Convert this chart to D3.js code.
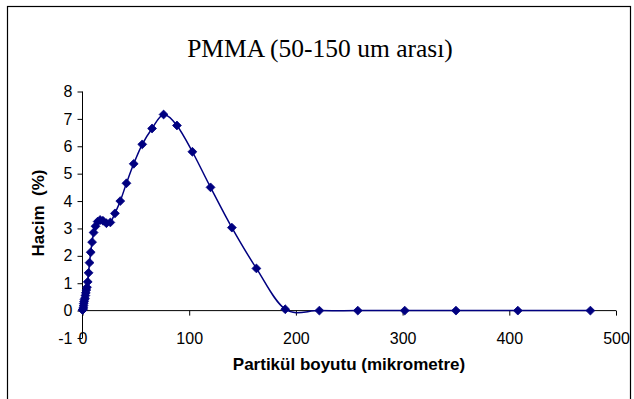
<!DOCTYPE html>
<html>
<head>
<meta charset="utf-8">
<script src="https://cdn.jsdelivr.net/npm/d3@7/dist/d3.min.js"></script>
<style>
  html, body { margin: 0; padding: 0; background: #fff; }
  svg { display: block; }
</style>
</head>
<body>
<svg id="chart" width="634" height="399"></svg>
<script>
// Particle size distribution of PMMA (50-150 µm fraction)
const sizes = [0, 0.5, 0.8, 1.0, 1.2, 1.5, 1.8, 2.3, 2.7, 3.1, 3.6, 4.2, 4.9, 5.7, 6.6, 7.7, 9.0,
  10.4, 12.2, 14.2, 16.5, 19.2, 22.4, 26.1, 30.4, 35.4, 41.2, 48, 56, 65.2, 76, 88.5, 103,
  120, 140, 163, 190, 222, 258, 302, 350, 408, 476];
const volumes = [0.02, 0.05, 0.1, 0.18, 0.26, 0.33, 0.4, 0.45, 0.55, 0.65, 0.75, 0.85, 1.05, 1.38, 1.75, 2.13, 2.5,
  2.85, 3.08, 3.25, 3.31, 3.28, 3.19, 3.22, 3.55, 4.0, 4.65, 5.36, 6.07, 6.65, 7.16, 6.76, 5.8,
  4.5, 3.03, 1.54, 0.05, 0, 0, 0, 0, 0, 0];
const xTicks = [0, 100, 200, 300, 400, 500];
const yTicks = [-1, 0, 1, 2, 3, 4, 5, 6, 7, 8];

const title = "PMMA (50-150 um arası)";
const xTitle = "Partikül boyutu (mikrometre)";
const yTitle = "Hacim  (%)";

const points = sizes.map((s, i) => ({ x: s, y: volumes[i] }));

const svg = d3.select("#chart");
const color = "#000080";
const sans = "Liberation Sans, Arial, sans-serif";
const plain = d => String(d);

// chart area frame
svg.append("rect")
  .attr("x", 7.5).attr("y", 6.5)
  .attr("width", 623).attr("height", 420)
  .attr("fill", "#fff").attr("stroke", "#000").attr("stroke-width", 1.2);

const x = d3.scaleLinear().domain([0, 500]).range([82.5, 616]);
const y = d3.scaleLinear().domain([-1, 8]).range([338, 91.5]);

// y axis
const yAxis = svg.append("g")
  .attr("transform", `translate(${x(0)},0)`)
  .call(d3.axisLeft(y).tickValues(yTicks).tickSize(5).tickPadding(5).tickFormat(plain));
yAxis.select(".domain").attr("stroke", "#000").attr("d", `M0,${y(-1)}V${y(8)}`);
yAxis.selectAll(".tick line").attr("stroke", "#000");
yAxis.selectAll("text")
  .attr("font-family", sans)
  .attr("font-size", 16).attr("fill", "#000");

// x axis crosses at y = 0, labels sit at the bottom of the value range
const xAxis = svg.append("g")
  .attr("transform", `translate(0,${y(0)})`)
  .call(d3.axisBottom(x).tickValues(xTicks).tickSize(5).tickFormat(plain));
xAxis.select(".domain").attr("stroke", "#000").attr("d", `M${x(0)},0H${x(500)}`);
xAxis.selectAll(".tick line").attr("stroke", "#000");
xAxis.selectAll("text")
  .attr("y", y(-1) - y(0))
  .attr("dy", "0.35em")
  .attr("font-family", sans)
  .attr("font-size", 16).attr("fill", "#000");

// smoothed series line
const line = d3.line()
  .x(d => x(d.x)).y(d => y(d.y))
  .curve(d3.curveCatmullRom.alpha(0));
svg.append("path")
  .datum(points)
  .attr("d", line)
  .attr("fill", "none")
  .attr("stroke", color)
  .attr("stroke-width", 1.5);

// diamond markers
const diamond = d3.symbol().type(d3.symbolDiamond2).size(50);
svg.append("g").selectAll("path")
  .data(points)
  .join("path")
  .attr("transform", d => `translate(${x(d.x)},${y(d.y)})`)
  .attr("d", diamond)
  .attr("fill", color)
  .attr("stroke", color)
  .attr("stroke-width", 0.8);

// titles
svg.append("text")
  .attr("x", 320).attr("y", 57)
  .attr("text-anchor", "middle")
  .attr("font-family", "Liberation Serif, Times New Roman, serif")
  .attr("font-size", 25.5)
  .text(title);

svg.append("text")
  .attr("x", 349).attr("y", 370)
  .attr("text-anchor", "middle")
  .attr("font-family", sans)
  .attr("font-weight", "bold")
  .attr("font-size", 17)
  .text(xTitle);

svg.append("text")
  .attr("transform", `translate(44,213) rotate(-90)`)
  .attr("text-anchor", "middle")
  .attr("font-family", sans)
  .attr("font-weight", "bold")
  .attr("font-size", 17)
  .style("white-space", "pre")
  .text(yTitle);
</script>
</body>
</html>
